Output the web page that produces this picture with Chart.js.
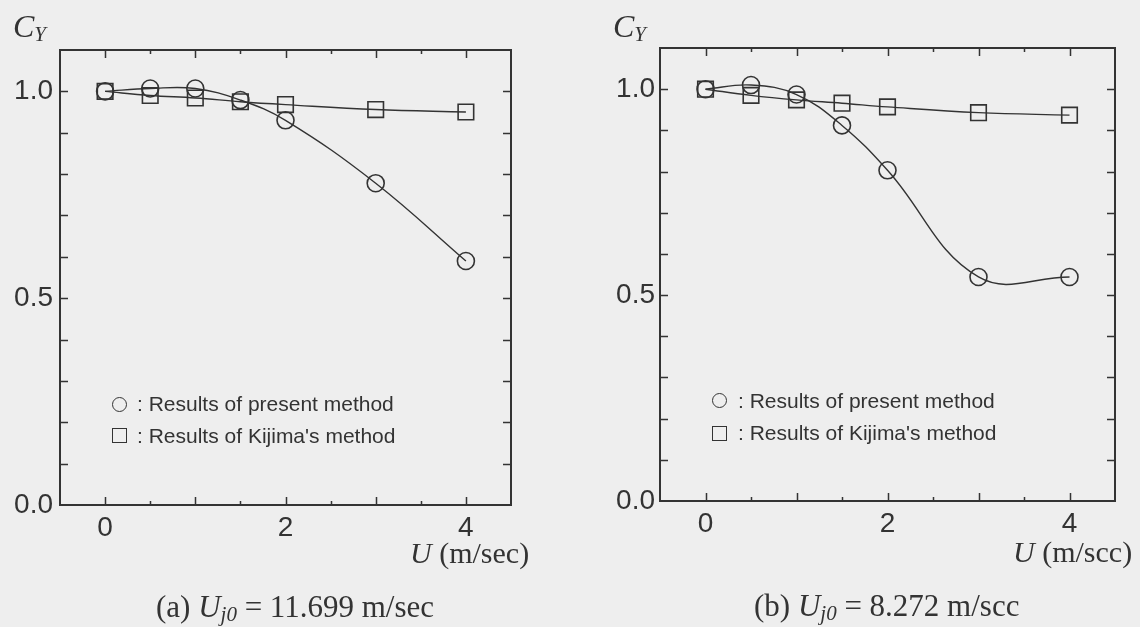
<!DOCTYPE html>
<html>
<head>
<meta charset="utf-8">
<script src="https://cdn.jsdelivr.net/npm/chart.js@4.4.1/dist/chart.umd.min.js"></script>
<style>
html,body{margin:0;padding:0;}
body{width:1140px;height:627px;background:#eeeeee;position:relative;overflow:hidden;color:#333;}
canvas{position:absolute;top:0;}
.lbl{position:absolute;white-space:nowrap;line-height:1;}
.serif{font-family:"Liberation Serif","Times New Roman",serif;}
.sans{font-family:"Liberation Sans",Arial,sans-serif;}
.lbl sub{font-size:21px;vertical-align:-4px;line-height:0;}
.mk{position:absolute;box-sizing:border-box;border:1.6px solid #333;width:15px;height:15px;}
.mk.circle{border-radius:50%;}
</style>
</head>
<body>
<canvas id="chartA" width="570" height="627" style="left:0px"></canvas>
<canvas id="chartB" width="570" height="627" style="left:570px"></canvas>

<!-- axis names -->
<div class="lbl serif" style="left:13px;top:10px;font-size:32px"><i>C</i><sub><i>Y</i></sub></div>
<div class="lbl serif" style="left:613px;top:10px;font-size:32px"><i>C</i><sub><i>Y</i></sub></div>
<div class="lbl serif" style="left:410px;top:538px;font-size:30px"><i>U</i> (m/sec)</div>
<div class="lbl serif" style="left:1013px;top:537px;font-size:30px"><i>U</i> (m/scc)</div>

<!-- legends inside the plots -->
<span class="mk circle" style="left:112px;top:397px"></span>
<span class="mk" style="left:112px;top:428px"></span>
<div class="lbl sans" style="left:137px;top:393px;font-size:21px">: Results of present method</div>
<div class="lbl sans" style="left:137px;top:425px;font-size:21px">: Results of Kijima's method</div>

<span class="mk circle" style="left:712px;top:393px"></span>
<span class="mk" style="left:712px;top:426px"></span>
<div class="lbl sans" style="left:738px;top:390px;font-size:21px">: Results of present method</div>
<div class="lbl sans" style="left:738px;top:422px;font-size:21px">: Results of Kijima's method</div>

<!-- captions -->
<div class="lbl serif" style="left:156px;top:591px;font-size:31px">(a) <i>U</i><sub><i>j0</i></sub> = 11.699 m/sec</div>
<div class="lbl serif" style="left:754px;top:590px;font-size:31px">(b) <i>U</i><sub><i>j0</i></sub> = 8.272 m/scc</div>

<script>
// wind speed U (m/sec) where both methods were evaluated
var uValues=[0,0.5,1,1.5,2,3,4];
// (a) Uj0 = 11.699 m/sec
var presentA=[1.0,1.007,1.007,0.979,0.930,0.778,0.590];
var kijimaA=[1.0,0.990,0.984,0.975,0.968,0.956,0.950];
// (b) Uj0 = 8.272 m/sec
var presentB=[1.0,1.010,0.987,0.912,0.803,0.544,0.544];
var kijimaB=[1.0,0.985,0.974,0.966,0.957,0.943,0.937];

var xLabels=[0,2,4];
var yLabels=[0.0,0.5,1.0];

var ink="#333333";

function toPoints(ys){
    var pts=[];
    for(var i=0;i<uValues.length;i++){
        pts.push({x:uValues[i],y:ys[i]});
    }
    return pts;
}

// frame plus inward tick marks on all four sides
var frameTicks={
    id:'frameTicks',
    afterDraw:function(chart){
        var ctx=chart.ctx, a=chart.chartArea, x=chart.scales.x, y=chart.scales.y;
        ctx.save();
        ctx.strokeStyle=ink;
        ctx.lineWidth=1.5;
        ctx.beginPath();
        x.ticks.forEach(function(t){
            if(t.value<=x.min+1e-6||t.value>=x.max-1e-6) return;
            var px=Math.round(x.getPixelForValue(t.value))+0.5;
            var len=Math.abs(t.value-Math.round(t.value))<1e-6?8:4;
            ctx.moveTo(px,a.bottom);ctx.lineTo(px,a.bottom-len);
            ctx.moveTo(px,a.top);ctx.lineTo(px,a.top+len);
        });
        y.ticks.forEach(function(t){
            if(t.value<=y.min+1e-6||t.value>=y.max-1e-6) return;
            var py=Math.round(y.getPixelForValue(t.value))+0.5;
            ctx.moveTo(a.left,py);ctx.lineTo(a.left+8,py);
            ctx.moveTo(a.right,py);ctx.lineTo(a.right-8,py);
        });
        ctx.stroke();
        ctx.lineWidth=2;
        ctx.strokeRect(a.left,a.top,a.right-a.left,a.bottom-a.top);
        ctx.restore();
    }
};

function makeChart(id,present,kijima,box){
    var c=document.getElementById(id).getContext('2d');
    return new Chart(c,{
        type:'line',
        data:{
            datasets:[
                {
                    label:"Results of present method",
                    data:toPoints(present),
                    borderColor:ink,
                    borderWidth:1.4,
                    tension:0.4,
                    pointStyle:'circle',
                    pointRadius:8.5,
                    pointBorderWidth:1.6,
                    pointBorderColor:ink,
                    pointBackgroundColor:'rgba(0,0,0,0)'
                },
                {
                    label:"Results of Kijima's method",
                    data:toPoints(kijima),
                    borderColor:ink,
                    borderWidth:1.4,
                    tension:0.4,
                    pointStyle:'rect',
                    pointRadius:11,
                    pointBorderWidth:1.6,
                    pointBorderColor:ink,
                    pointBackgroundColor:'rgba(0,0,0,0)'
                }
            ]
        },
        options:{
            responsive:false,
            animation:false,
            devicePixelRatio:1,
            events:[],
            layout:{padding:{left:0,top:box.top,right:box.right,bottom:0}},
            plugins:{legend:{display:false},tooltip:{enabled:false}},
            scales:{
                x:{
                    type:'linear',
                    position:'bottom',
                    min:-0.5,max:4.5,
                    grid:{display:false,drawTicks:false},
                    border:{display:false},
                    ticks:{
                        stepSize:0.5,
                        padding:6,
                        color:ink,
                        font:{family:"Liberation Sans",size:28},
                        maxRotation:0,
                        autoSkip:false,
                        // keep every 0.5 tick, label only 0, 2, 4
                        callback:function(v){return xLabels.indexOf(v)>=0?String(v):'';}
                    },
                    afterFit:function(s){s.height=box.xh;}
                },
                y:{
                    type:'linear',
                    position:'left',
                    min:0,max:1.1,
                    grid:{display:false,drawTicks:false},
                    border:{display:false},
                    ticks:{
                        stepSize:0.1,
                        padding:box.ypad,
                        color:ink,
                        font:{family:"Liberation Sans",size:28},
                        autoSkip:false,
                        callback:function(v){
                            var r=Math.round(v*10)/10;
                            return yLabels.indexOf(r)>=0?r.toFixed(1):'';
                        }
                    },
                    afterFit:function(s){s.width=box.yw;}
                }
            }
        },
        plugins:[frameTicks]
    });
}

makeChart("chartA",presentA,kijimaA,{top:50,right:59,xh:122,yw:60,ypad:7});
makeChart("chartB",presentB,kijimaB,{top:48,right:25,xh:126,yw:90,ypad:5});
</script>
</body>
</html>
